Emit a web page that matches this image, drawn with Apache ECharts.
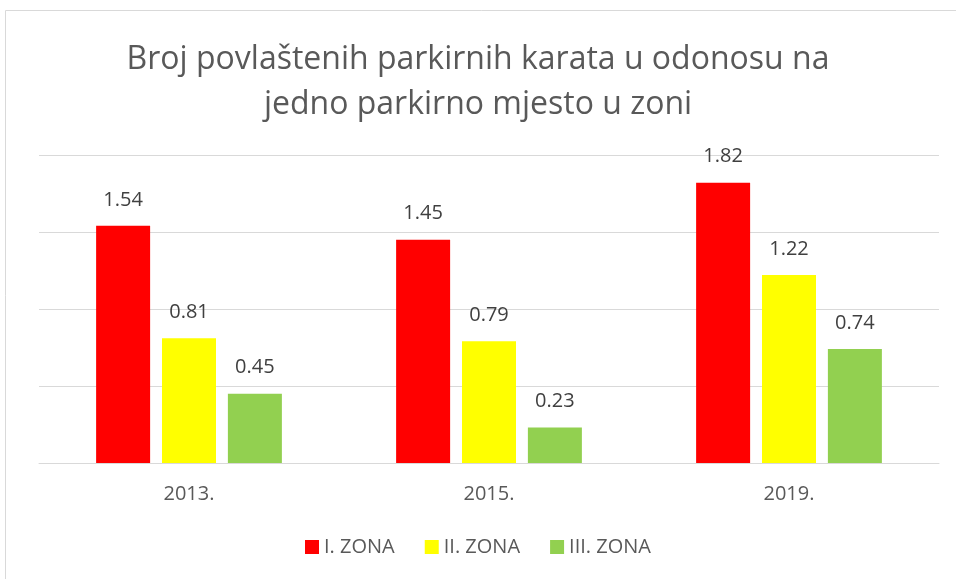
<!DOCTYPE html>
<html><head><meta charset="utf-8">
<script src="https://cdn.jsdelivr.net/npm/echarts@6/dist/echarts.min.js"></script>
<style>html,body{margin:0;padding:0;background:#fff}#c{width:956px;height:579px}</style>
</head><body><div id="c"></div>
<script>
const categories = ['2013.', '2015.', '2019.'];
const seriesNames = ['I. ZONA', 'II. ZONA', 'III. ZONA'];
const zona1 = [1.54, 1.45, 1.82];
const zona2 = [0.81, 0.79, 1.22];
const zona3 = [0.45, 0.23, 0.74];
const colors = ['#ff0000', '#ffff00', '#92d050'];
const titleText = 'Broj povlaštenih parkirnih karata u odonosu na\njedno parkirno mjesto u zoni';

const chart = echarts.init(document.getElementById('c'), null, {renderer: 'canvas'});
const font = 'Open Sans';
const mk = (name, data, i) => ({
  name, type: 'bar', data, barWidth: 54, barGap: '22%',
  itemStyle: {color: colors[i]},
  label: {show: true, position: 'top', distance: 16, color: '#404040', fontSize: 20, fontFamily: font,
    formatter: p => p.value.toFixed(2)}
});
chart.setOption({
  animation: false,
  graphic: [{type: 'rect', shape: {x: 5.5, y: 10.5, width: 1000, height: 1000}, style: {fill: 'none', stroke: '#d9d9d9', lineWidth: 1}}],
  title: {text: titleText, left: 'center', top: 32, textStyle: {fontFamily: font, fontWeight: 'normal', fontSize: 32, color: '#595959', lineHeight: 45}},
  legend: {bottom: 17, left: 'center', itemWidth: 14, itemHeight: 14, itemGap: 30, icon: 'rect',
    textStyle: {fontFamily: font, fontSize: 20, color: '#595959', padding: [0, 0, 0, 0]}, data: seriesNames},
  grid: {left: 39, right: 17, top: 155, bottom: 116},
  xAxis: {type: 'category', data: categories, axisTick: {show: false},
    axisLine: {lineStyle: {color: '#d9d9d9', width: 1}},
    axisLabel: {fontFamily: font, fontSize: 20, color: '#595959', margin: 21}},
  yAxis: {type: 'value', min: 0, max: 2, interval: 0.5, axisLabel: {show: false}, axisLine: {show: false}, axisTick: {show: false},
    splitLine: {lineStyle: {color: '#d9d9d9', width: 1}}},
  series: [mk(seriesNames[0], zona1, 0), mk(seriesNames[1], zona2, 1), mk(seriesNames[2], zona3, 2)]
});
</script></body></html>
